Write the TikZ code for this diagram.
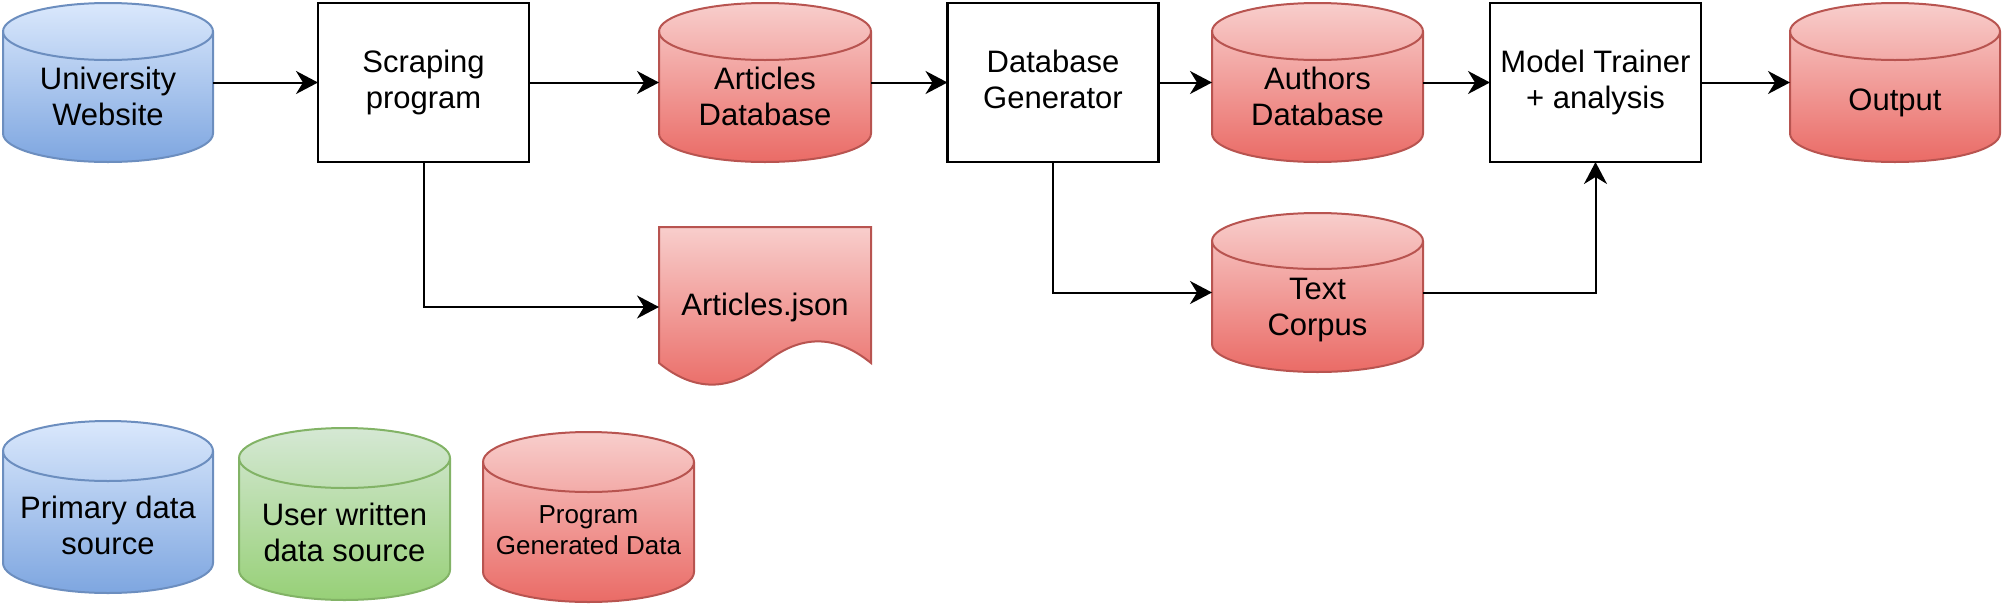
\documentclass[tikz,border=0pt]{standalone}
\usepackage{fontspec}
\setmainfont{Liberation Sans}
\usetikzlibrary{arrows.meta,calc}
\definecolor{bluetop}{HTML}{DAE8FC}
\definecolor{bluebot}{HTML}{7EA6E0}
\definecolor{blueline}{HTML}{6C8EBF}
\definecolor{greentop}{HTML}{D5E8D4}
\definecolor{greenbot}{HTML}{97D077}
\definecolor{greenline}{HTML}{82B366}
\definecolor{redtop}{HTML}{F8CECC}
\definecolor{redbot}{HTML}{EA6B66}
\definecolor{redline}{HTML}{B85450}
\newcommand\lblstrut{\rule[-3.4pt]{0pt}{17.9pt}}
\newcommand\smstrut{\rule[-3pt]{0pt}{15.3pt}}
% #1 name, #2 left, #3 top, #4 right, #5 bottom, #6 ry (px), #7 colour style
\newcommand\dbcyl[7]{%
  \node[cylbox, minimum width={(#4-#2)*0.5pt}, minimum height={(#5-#3)*0.5pt}]
    (#1) at ({(#2+#4)/2},{(#3+#5)/2}) {};
  \path[#7] (#2,{#3+#6}) -- (#2,{#5-#6})
    arc[start angle=180, end angle=360, x radius={(#4-#2)*0.25pt}, y radius={#6*0.5pt}]
    -- (#4,{#3+#6})
    arc[start angle=0, end angle=180, x radius={(#4-#2)*0.25pt}, y radius={#6*0.5pt}]
    -- cycle;
  \draw[#7, shade=none, fill=none] (#2,{#3+#6})
    arc[start angle=180, end angle=360, x radius={(#4-#2)*0.25pt}, y radius={#6*0.5pt}];
}
\begin{document}
\begin{tikzpicture}[x=0.5pt, y=-0.5pt,
  cylbox/.style={inner sep=0pt, outer sep=0pt},
  lbl/.style={font=\fontsize{15.5pt}{18pt}\selectfont, align=center,
    inner sep=0pt, execute at begin node=\lblstrut, execute at end node=\lblstrut},
  lblsm/.style={font=\fontsize{13pt}{15.5pt}\selectfont, align=center,
    inner sep=0pt, execute at begin node=\smstrut, execute at end node=\smstrut},
  procbox/.style={lbl, draw=black, line width=1.1pt, fill=white,
    minimum width=105.5pt, minimum height=79.5pt, outer sep=0pt},
  dbblue/.style={top color=bluetop, bottom color=bluebot, draw=blueline, line width=1pt},
  dbgreen/.style={top color=greentop, bottom color=greenbot, draw=greenline, line width=1pt},
  dbred/.style={top color=redtop, bottom color=redbot, draw=redline, line width=1pt},
  conn/.style={draw=black, line width=1pt, -{Stealth[length=11pt, width=11.5pt, inset=3.5pt]}}
]
\useasboundingbox (0,0) rectangle (2004,606);

% top row
\dbcyl{univ}{3}{3}{213}{162}{28.5}{dbblue}
\node[procbox] (scrape) at (423.5,82.5) {Scraping\\program};
\dbcyl{artdb}{659}{3}{871}{162}{28.5}{dbred}
\node[procbox] (dbgen) at (1053,82.5) {Database\\Generator};
\dbcyl{authdb}{1212}{3}{1423}{162}{28.5}{dbred}
\node[procbox] (model) at (1595.5,82.5) {Model Trainer\\+ analysis};
\dbcyl{output}{1790}{3}{2000}{162}{28.5}{dbred}

% second row
\node[cylbox, minimum width=106pt, minimum height=80pt] (json) at (765,307) {};
\path[dbred] (659,227) -- (871,227) -- (871,363)
  .. controls (835.67,334.2) and (800.33,334.2) .. (765,363)
  .. controls (729.67,391.8) and (694.33,391.8) .. (659,363) -- cycle;
\dbcyl{corpus}{1212}{213}{1423}{372}{28}{dbred}

% legend
\dbcyl{prim}{3}{421}{213}{593}{30}{dbblue}
\dbcyl{user}{239}{428}{450}{600}{30}{dbgreen}
\dbcyl{prog}{483}{432}{694}{602}{30}{dbred}

% labels
\node[lbl] (univ-l) at (108,100) {University\\Website};
\node[lbl] (artdb-l) at (765,100) {Articles\\Database};
\node[lbl] (authdb-l) at (1317.5,100) {Authors\\Database};
\node[lbl] (output-l) at (1895,99) {Output};
\node[lbl] (corpus-l) at (1317.5,310) {Text\\Corpus};
\node[lbl] (json-l) at (765,304) {Articles.json};
\node[lbl] (prim-l) at (108,528.5) {Primary data\\source};
\node[lbl] (user-l) at (344.5,536) {User written\\data source};
\node[lblsm] (prog-l) at (588.5,533) {Program\\Generated Data};

% connectors
\draw[conn] (univ) -- (scrape);
\draw[conn] (scrape) -- (artdb);
\draw[conn] (scrape) |- (json);
\draw[conn] (artdb) -- (dbgen);
\draw[conn] (dbgen) -- (authdb);
\draw[conn] (dbgen) |- (corpus);
\draw[conn] (authdb) -- (model);
\draw[conn] (corpus) -| (model);
\draw[conn] (model) -- (output);
\end{tikzpicture}
\end{document}
